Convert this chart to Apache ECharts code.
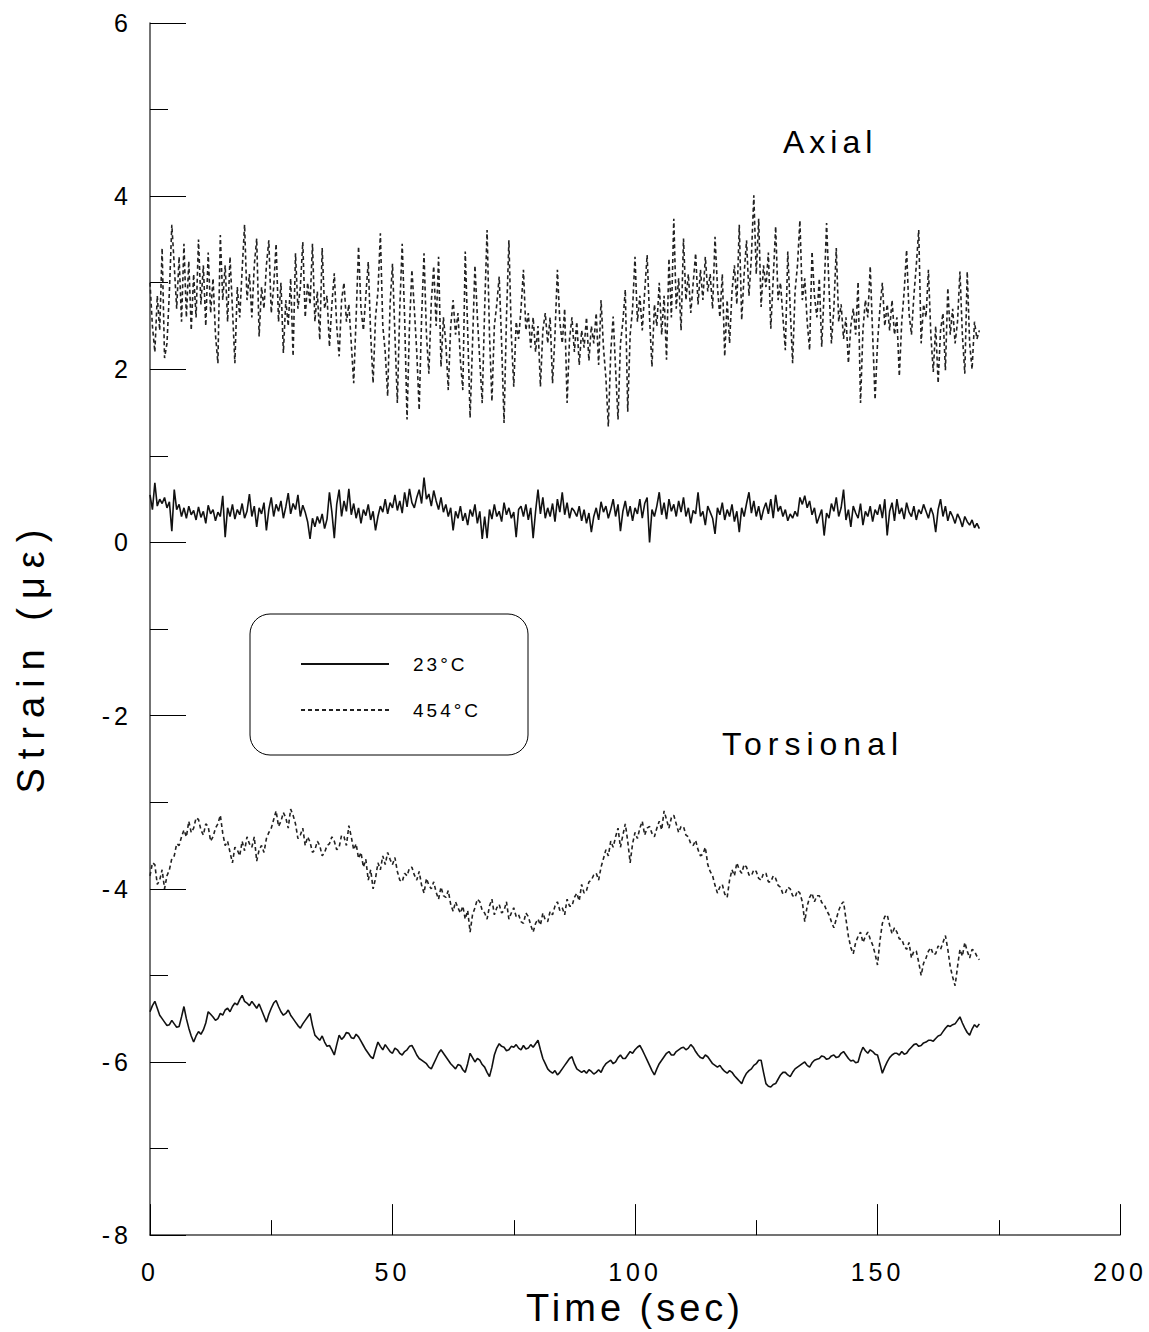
<!DOCTYPE html>
<html>
<head>
<meta charset="utf-8">
<script src="https://cdn.jsdelivr.net/npm/echarts@6/dist/echarts.min.js"></script>
<style>
    html, body { margin: 0; padding: 0; background: #fff; }
    #chart { width: 1149px; height: 1332px; }
</style>
</head>
<body>
<div id="chart"></div>
<script>
    // sampling step (sec), all four records
    const STEP = 0.5;

    // axial strain, 23°C (0..171 s)
    const axial23 = [
        0.55,0.38,0.69,0.42,0.50,0.45,0.52,0.40,0.47,0.13,0.61,0.38,0.44,0.30,0.40,0.28,0.42,0.32,0.37,0.26,
        0.41,0.29,0.36,0.22,0.43,0.33,0.38,0.25,0.35,0.30,0.54,0.06,0.40,0.30,0.44,0.27,0.38,0.32,0.45,0.28,
        0.36,0.56,0.30,0.42,0.18,0.40,0.33,0.46,0.14,0.38,0.52,0.30,0.44,0.36,0.48,0.28,0.41,0.57,0.33,0.45,
        0.38,0.55,0.30,0.43,0.35,0.24,0.04,0.28,0.18,0.30,0.22,0.33,0.16,0.27,0.58,0.35,0.05,0.44,0.61,0.30,
        0.48,0.36,0.62,0.32,0.45,0.28,0.40,0.22,0.38,0.31,0.44,0.26,0.36,0.14,0.30,0.42,0.35,0.50,0.33,0.46,
        0.40,0.55,0.37,0.48,0.34,0.58,0.41,0.62,0.46,0.40,0.52,0.61,0.45,0.75,0.50,0.56,0.42,0.60,0.48,0.38,
        0.52,0.35,0.44,0.30,0.40,0.14,0.36,0.28,0.42,0.25,0.34,0.20,0.38,0.30,0.44,0.22,0.36,0.04,0.30,0.05,
        0.38,0.27,0.44,0.30,0.36,0.24,0.46,0.32,0.40,0.28,0.35,0.06,0.38,0.42,0.30,0.44,0.26,0.40,0.05,0.36,
        0.61,0.33,0.52,0.28,0.40,0.30,0.45,0.24,0.50,0.35,0.58,0.32,0.46,0.28,0.40,0.36,0.30,0.42,0.25,0.38,
        0.22,0.34,0.12,0.30,0.40,0.26,0.47,0.35,0.42,0.28,0.38,0.50,0.30,0.44,0.13,0.36,0.48,0.30,0.42,0.25,
        0.40,0.33,0.50,0.28,0.45,0.52,0.00,0.38,0.30,0.42,0.58,0.32,0.46,0.27,0.50,0.36,0.44,0.30,0.48,0.35,
        0.52,0.30,0.40,0.22,0.37,0.33,0.58,0.30,0.36,0.20,0.42,0.35,0.28,0.10,0.40,0.32,0.46,0.26,0.38,0.30,
        0.44,0.24,0.36,0.12,0.40,0.30,0.45,0.58,0.34,0.48,0.30,0.42,0.26,0.38,0.46,0.33,0.50,0.28,0.55,0.36,
        0.42,0.30,0.38,0.25,0.33,0.28,0.36,0.30,0.52,0.44,0.54,0.40,0.48,0.32,0.40,0.22,0.30,0.38,0.08,0.34,
        0.28,0.45,0.36,0.52,0.30,0.40,0.61,0.26,0.38,0.18,0.42,0.34,0.28,0.45,0.20,0.36,0.30,0.42,0.24,0.38,
        0.32,0.44,0.28,0.50,0.08,0.36,0.46,0.25,0.50,0.33,0.40,0.27,0.46,0.35,0.30,0.42,0.26,0.38,0.33,0.44,
        0.36,0.28,0.40,0.32,0.12,0.38,0.50,0.30,0.42,0.25,0.36,0.30,0.22,0.33,0.27,0.18,0.30,0.24,0.20,0.26,
        0.17,0.22,0.16
    ];

    // axial strain, 454°C (0..171 s)
    const axial454 = [
        3.00,2.50,2.20,2.85,2.45,3.40,2.13,2.30,2.90,3.67,3.20,2.70,3.30,2.55,3.45,2.60,3.25,2.45,3.10,2.60,
        3.50,2.75,3.20,2.50,3.35,2.65,3.05,2.40,2.07,3.55,2.80,3.20,2.55,3.30,2.70,2.07,2.95,2.60,3.15,3.67,
        2.80,3.10,2.60,3.20,3.51,2.38,2.95,2.70,3.20,3.49,2.65,2.95,3.45,2.55,3.00,2.19,2.80,2.50,3.05,2.15,
        3.34,2.70,2.95,3.47,2.60,3.00,2.75,3.45,2.55,2.90,2.34,3.40,2.70,2.85,2.26,2.75,3.11,2.50,2.15,2.80,
        3.00,2.55,2.75,2.30,1.84,2.60,3.42,2.70,2.45,2.85,3.24,2.40,1.84,2.60,2.90,3.57,2.50,2.20,1.69,2.75,
        3.22,2.40,1.61,2.70,3.45,2.60,1.42,2.50,3.15,2.70,2.20,1.53,2.60,3.34,2.40,1.95,2.78,3.19,2.50,3.30,
        2.03,2.60,2.30,1.76,2.50,2.80,2.40,2.65,2.10,1.76,3.36,2.45,1.44,2.30,3.20,2.60,2.10,1.61,2.70,3.61,
        2.40,1.63,2.50,2.75,3.07,2.30,1.38,2.60,3.49,2.40,1.80,2.55,2.35,2.70,3.15,2.45,2.65,2.25,2.60,2.20,
        2.50,1.80,2.45,2.65,2.30,2.60,1.84,2.40,3.15,2.55,2.30,2.70,1.61,2.35,2.60,2.20,2.55,2.05,2.45,2.25,
        2.60,2.10,2.50,2.30,2.65,2.05,2.80,2.25,1.90,1.34,2.20,2.61,2.00,1.42,2.30,2.55,2.92,1.51,2.40,2.70,
        3.30,2.55,2.85,2.45,2.90,3.32,2.60,2.03,2.75,2.50,3.00,2.40,2.85,2.11,3.28,2.60,3.74,2.70,3.05,2.45,
        3.51,2.80,3.10,2.65,3.00,3.34,2.75,3.15,2.80,3.30,2.90,3.10,2.70,3.53,2.95,2.60,3.10,2.15,2.80,2.30,
        2.90,3.20,2.75,3.67,2.57,3.10,3.49,2.85,3.30,4.01,3.10,3.74,2.72,3.20,2.95,3.35,2.47,3.05,3.65,2.80,
        3.00,2.60,2.22,3.36,2.70,2.07,2.90,3.20,3.72,2.80,3.05,2.55,2.22,3.36,2.85,2.60,3.05,2.26,2.90,3.69,
        2.95,2.30,2.70,3.40,2.55,2.75,2.35,2.60,2.07,2.50,2.70,2.40,3.01,1.61,2.45,2.80,2.60,3.19,2.40,1.65,
        2.30,2.70,3.00,2.50,2.75,2.45,2.80,2.40,2.60,1.92,2.55,2.90,3.38,2.65,2.40,2.85,3.20,3.61,2.30,2.75,
        2.60,3.15,2.40,1.97,2.50,1.84,2.45,2.65,1.99,2.94,2.40,2.70,2.30,2.55,3.13,2.40,1.95,3.13,2.30,2.00,
        2.55,2.35,2.45
    ];

    // torsional strain, 23°C (0..171 s)
    const torsion23 = [
        -5.42,-5.35,-5.30,-5.38,-5.46,-5.50,-5.54,-5.58,-5.57,-5.52,-5.56,-5.60,-5.59,-5.48,-5.36,-5.50,-5.61,-5.70,-5.77,-5.70,
        -5.65,-5.68,-5.63,-5.55,-5.42,-5.45,-5.48,-5.52,-5.50,-5.44,-5.46,-5.40,-5.38,-5.42,-5.36,-5.32,-5.34,-5.28,-5.23,-5.30,
        -5.32,-5.35,-5.30,-5.34,-5.38,-5.33,-5.40,-5.47,-5.54,-5.45,-5.38,-5.32,-5.29,-5.36,-5.42,-5.46,-5.44,-5.40,-5.46,-5.50,
        -5.54,-5.58,-5.61,-5.56,-5.52,-5.48,-5.44,-5.58,-5.69,-5.72,-5.75,-5.70,-5.77,-5.82,-5.81,-5.86,-5.92,-5.80,-5.69,-5.74,
        -5.71,-5.66,-5.67,-5.72,-5.73,-5.68,-5.71,-5.76,-5.81,-5.86,-5.90,-5.94,-5.96,-5.86,-5.77,-5.82,-5.86,-5.80,-5.84,-5.88,
        -5.90,-5.84,-5.86,-5.90,-5.92,-5.88,-5.86,-5.82,-5.81,-5.86,-5.92,-5.96,-5.98,-6.00,-6.02,-6.06,-6.08,-6.02,-5.96,-5.90,
        -5.86,-5.90,-5.94,-5.98,-6.02,-6.05,-6.08,-6.03,-6.04,-6.09,-6.12,-6.02,-5.90,-5.95,-6.00,-5.96,-5.98,-6.03,-6.06,-6.12,
        -6.17,-6.06,-5.92,-5.84,-5.79,-5.82,-5.83,-5.87,-5.86,-5.82,-5.83,-5.80,-5.84,-5.86,-5.81,-5.85,-5.84,-5.80,-5.83,-5.79,
        -5.75,-5.86,-5.96,-6.02,-6.08,-6.11,-6.13,-6.10,-6.15,-6.12,-6.08,-6.04,-6.00,-5.96,-5.94,-6.02,-6.08,-6.10,-6.12,-6.10,
        -6.13,-6.09,-6.11,-6.14,-6.12,-6.09,-6.12,-6.06,-6.02,-6.00,-5.98,-6.02,-6.00,-5.95,-5.92,-5.96,-5.96,-5.92,-5.88,-5.90,
        -5.86,-5.83,-5.81,-5.86,-5.92,-5.98,-6.04,-6.10,-6.15,-6.08,-6.02,-5.98,-5.94,-5.90,-5.88,-5.92,-5.92,-5.88,-5.86,-5.84,
        -5.83,-5.86,-5.84,-5.80,-5.83,-5.88,-5.92,-5.95,-5.96,-5.92,-5.94,-5.98,-6.02,-6.04,-6.06,-6.04,-6.08,-6.11,-6.13,-6.10,
        -6.12,-6.16,-6.19,-6.22,-6.25,-6.18,-6.13,-6.10,-6.08,-6.04,-6.02,-5.98,-5.98,-6.12,-6.25,-6.28,-6.29,-6.26,-6.25,-6.20,
        -6.15,-6.12,-6.12,-6.15,-6.17,-6.12,-6.08,-6.06,-6.04,-6.02,-6.00,-6.04,-6.06,-6.01,-5.98,-5.97,-5.96,-5.93,-5.94,-5.97,
        -5.96,-5.93,-5.92,-5.95,-5.94,-5.90,-5.88,-5.92,-5.96,-5.99,-5.98,-6.01,-6.00,-5.90,-5.83,-5.87,-5.90,-5.86,-5.88,-5.91,
        -5.92,-6.02,-6.13,-6.06,-6.00,-5.95,-5.92,-5.90,-5.90,-5.92,-5.88,-5.91,-5.90,-5.86,-5.83,-5.80,-5.79,-5.82,-5.81,-5.78,
        -5.77,-5.75,-5.75,-5.76,-5.73,-5.70,-5.69,-5.65,-5.61,-5.58,-5.59,-5.57,-5.56,-5.52,-5.48,-5.55,-5.61,-5.66,-5.69,-5.62,
        -5.57,-5.60,-5.56
    ];

    // torsional strain, 454°C (0..171 s)
    const torsion454 = [
        -3.85,-3.70,-3.72,-3.95,-3.90,-3.78,-4.00,-3.85,-3.78,-3.65,-3.62,-3.48,-3.50,-3.40,-3.32,-3.40,-3.22,-3.35,-3.30,-3.18,
        -3.20,-3.32,-3.38,-3.25,-3.28,-3.45,-3.40,-3.30,-3.25,-3.15,-3.36,-3.50,-3.45,-3.58,-3.70,-3.52,-3.55,-3.62,-3.45,-3.56,
        -3.40,-3.48,-3.52,-3.40,-3.68,-3.55,-3.50,-3.58,-3.42,-3.35,-3.30,-3.20,-3.10,-3.28,-3.22,-3.12,-3.18,-3.30,-3.08,-3.15,
        -3.25,-3.42,-3.38,-3.30,-3.50,-3.40,-3.46,-3.58,-3.55,-3.45,-3.50,-3.62,-3.58,-3.50,-3.48,-3.40,-3.45,-3.55,-3.52,-3.38,
        -3.40,-3.50,-3.27,-3.40,-3.55,-3.48,-3.65,-3.58,-3.75,-3.66,-3.90,-3.78,-4.00,-3.88,-3.70,-3.78,-3.62,-3.72,-3.58,-3.66,
        -3.72,-3.64,-3.80,-3.90,-3.92,-3.82,-3.85,-3.76,-3.75,-3.84,-3.90,-3.80,-3.96,-4.05,-3.88,-3.96,-4.00,-3.92,-4.04,-4.12,
        -3.98,-4.08,-4.10,-4.02,-4.18,-4.26,-4.15,-4.22,-4.28,-4.20,-4.35,-4.25,-4.50,-4.30,-4.22,-4.12,-4.15,-4.25,-4.28,-4.35,
        -4.20,-4.12,-4.30,-4.22,-4.18,-4.28,-4.25,-4.15,-4.35,-4.28,-4.22,-4.32,-4.30,-4.38,-4.40,-4.28,-4.32,-4.42,-4.50,-4.40,
        -4.35,-4.42,-4.28,-4.36,-4.38,-4.26,-4.30,-4.20,-4.15,-4.25,-4.22,-4.30,-4.12,-4.20,-4.20,-4.10,-4.05,-4.14,-3.95,-4.05,
        -4.02,-3.92,-3.90,-3.84,-3.82,-3.90,-3.75,-3.65,-3.55,-3.62,-3.45,-3.52,-3.40,-3.30,-3.52,-3.38,-3.25,-3.45,-3.70,-3.48,
        -3.35,-3.42,-3.30,-3.22,-3.38,-3.30,-3.28,-3.36,-3.40,-3.30,-3.22,-3.32,-3.10,-3.20,-3.30,-3.18,-3.15,-3.25,-3.35,-3.28,
        -3.28,-3.38,-3.40,-3.48,-3.50,-3.44,-3.55,-3.62,-3.60,-3.52,-3.72,-3.80,-3.85,-3.96,-4.05,-3.98,-3.95,-4.06,-4.10,-3.90,
        -3.78,-3.85,-3.70,-3.78,-3.82,-3.72,-3.75,-3.84,-3.85,-3.78,-3.80,-3.88,-3.90,-3.82,-3.82,-3.92,-3.92,-3.85,-3.88,-3.96,
        -3.98,-4.06,-4.05,-3.98,-4.00,-4.08,-4.10,-4.02,-4.05,-4.15,-4.38,-4.20,-4.10,-4.05,-4.15,-4.08,-4.08,-4.16,-4.18,-4.25,
        -4.30,-4.38,-4.45,-4.35,-4.25,-4.18,-4.15,-4.35,-4.55,-4.68,-4.75,-4.62,-4.55,-4.50,-4.62,-4.55,-4.50,-4.58,-4.65,-4.75,
        -4.88,-4.60,-4.40,-4.32,-4.30,-4.42,-4.52,-4.45,-4.50,-4.58,-4.58,-4.66,-4.70,-4.62,-4.80,-4.72,-4.72,-4.85,-5.00,-4.86,
        -4.80,-4.72,-4.68,-4.76,-4.75,-4.66,-4.70,-4.62,-4.54,-4.70,-4.90,-5.02,-5.12,-4.90,-4.70,-4.78,-4.62,-4.72,-4.80,-4.70,
        -4.72,-4.78,-4.82
    ];

    const xTickLabels = ['0', '50', '100', '150', '200'];
    const yTickLabels = ['-8', '-6', '-4', '-2', '0', '2', '4', '6'];

    function withTime(values) {
        return values.map((v, i) => [i * STEP, v]);
    }

    const chart = echarts.init(document.getElementById('chart'), null, { renderer: 'svg' });

    const FONT = '"Liberation Sans", Arial, sans-serif';
    const solidLine = { color: '#111', width: 1.6, type: 'solid' };
    const dashLine = { color: '#222', width: 1.6, type: [4, 3] };

    const option = {
        animation: false,
        backgroundColor: '#fff',
        textStyle: { fontFamily: FONT },
        grid: { left: 150, right: 29, top: 23, bottom: 95 },
        legend: {
            orient: 'vertical',
            left: 295,
            top: 649,
            itemWidth: 88,
            itemHeight: 14,
            itemGap: 26,
            data: ['23°C', '454°C'],
            itemStyle: { opacity: 0 },
            textStyle: { fontSize: 19, lineHeight: 20, color: '#000', padding: [0, 0, 0, 19] },
            selectedMode: false
        },
        graphic: [
            {
                type: 'rect',
                shape: { x: 250, y: 614, width: 278, height: 141, r: 20 },
                style: { fill: 'none', stroke: '#000', lineWidth: 1 },
                z: 10
            },
            {
                type: 'text',
                left: 783,
                top: 126,
                style: { text: 'Axial', font: '32px ' + FONT, fill: '#000' }
            },
            {
                type: 'text',
                left: 722,
                top: 728,
                style: { text: 'Torsional', font: '32px ' + FONT, fill: '#000' }
            }
        ],
        xAxis: {
            type: 'value',
            min: 0,
            max: 200,
            interval: 50,
            name: 'Time (sec)',
            nameLocation: 'middle',
            nameGap: 48,
            nameTextStyle: { fontSize: 38, color: '#000' },
            axisLine: { onZero: false, lineStyle: { color: '#444', width: 1.5 } },
            axisTick: { inside: true, length: 31, lineStyle: { color: '#000', width: 1 } },
            minorTick: { show: true, splitNumber: 2, length: 15, lineStyle: { color: '#000', width: 1 } },
            axisLabel: {
                fontSize: 25, color: '#000', margin: 24,
                formatter: v => xTickLabels[xTickLabels.indexOf(String(v))] || ''
            },
            splitLine: { show: false }
        },
        yAxis: {
            type: 'value',
            min: -8,
            max: 6,
            interval: 2,
            name: 'Strain (με)',
            nameLocation: 'middle',
            nameGap: 100,
            nameTextStyle: { fontSize: 38, color: '#000', padding: [0, 56, 0, 0] },
            axisLine: { onZero: false, lineStyle: { color: '#444', width: 1.5 } },
            axisTick: { inside: true, length: 36, lineStyle: { color: '#000', width: 1 } },
            minorTick: { show: true, splitNumber: 2, length: 18, lineStyle: { color: '#000', width: 1 } },
            axisLabel: {
                fontSize: 25, color: '#000', margin: 18,
                formatter: v => yTickLabels[yTickLabels.indexOf(String(v))] || ''
            },
            splitLine: { show: false }
        },
        series: [
            {
                name: '23°C', type: 'line', showSymbol: false, symbol: 'none',
                data: withTime(axial23), lineStyle: solidLine, itemStyle: { color: '#111' }
            },
            {
                name: '454°C', type: 'line', showSymbol: false, symbol: 'none',
                data: withTime(axial454), lineStyle: dashLine, itemStyle: { color: '#222' }
            },
            {
                name: '23°C', type: 'line', showSymbol: false, symbol: 'none',
                data: withTime(torsion23), lineStyle: solidLine, itemStyle: { color: '#111' }
            },
            {
                name: '454°C', type: 'line', showSymbol: false, symbol: 'none',
                data: withTime(torsion454), lineStyle: dashLine, itemStyle: { color: '#222' }
            }
        ]
    };

    // the original figure uses widely spaced lettering
    const letterGaps = { 'Strain (με)': 9, 'Time (sec)': 4, 'Axial': 5, 'Torsional': 6, '23°C': 3, '454°C': 3 };
    function spaceLetters() {
        document.querySelectorAll('#chart svg text').forEach(el => {
            const t = el.textContent;
            const gap = letterGaps[t] !== undefined ? letterGaps[t] : 4;
            el.style.letterSpacing = gap + 'px';
        });
    }
    chart.on('finished', spaceLetters);

    chart.setOption(option);
    setTimeout(spaceLetters, 50);
</script>
</body>
</html>
